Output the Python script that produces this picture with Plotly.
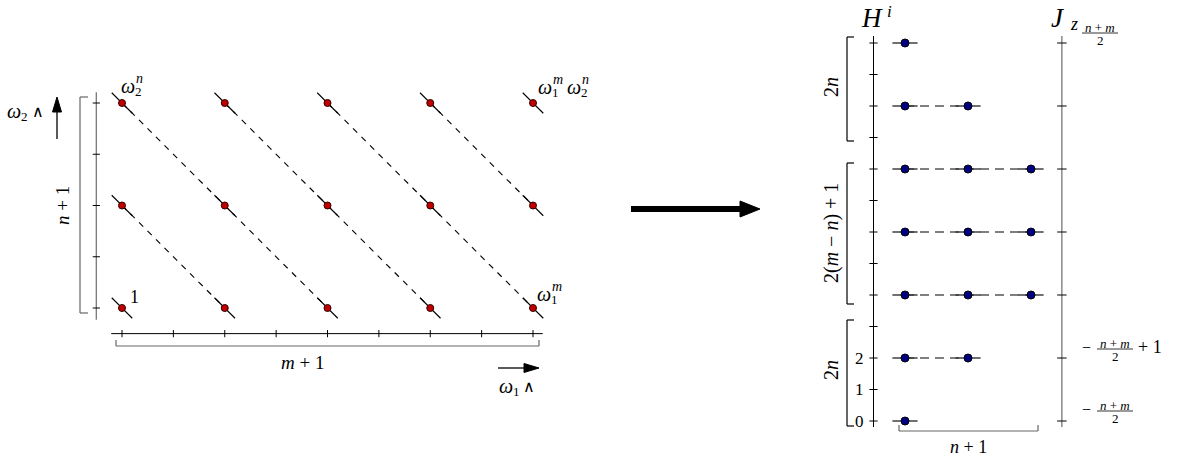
import plotly.graph_objects as go

# ---------------- data ----------------
# Left panel: weight lattice (positions in tick units)
lattice_cols = [0, 2, 4, 6, 8]      # omega_1 exponents 0 ... m (with ellipsis ticks between)
lattice_rows = [0, 2, 4]            # omega_2 exponents 0 ... n
col_ticks = [0, 1, 2, 3, 4, 5, 6, 7, 8]
row_ticks = [0, 1, 2, 3, 4]

# Right panel: H^i levels and number of states per level
h_levels = [0, 2, 4, 6, 8, 10, 12]
h_mult = [1, 2, 3, 3, 3, 2, 1]
h_ticks = list(range(13))
h_tick_labels = ["0", "1", "2"]
jz_ticks = [0, 2, 4, 6, 8, 10, 12]

# ---------------- geometry ----------------
W, H = 1177, 461
X0L, SXL, Y0L, SYL = 122, 51.375, 308, 51.25
X0R, SXR, Y0R, SYR = 905, 63, 421, 31.5
SERIF = "Liberation Serif"

fig = go.Figure()
annotations = []
shapes = []


def seg_trace(xs, ys, axes, color="black", width=1, dash="solid"):
    xa, ya = axes
    fig.add_trace(go.Scatter(x=xs, y=ys, mode="lines", xaxis=xa, yaxis=ya,
                             line=dict(color=color, width=width, dash=dash),
                             hoverinfo="skip", showlegend=False))


def txt(x, y, s, size=15, angle=0, xa="center", ya="middle", family=SERIF):
    annotations.append(dict(x=x, y=y, xref="x", yref="y", text=s, showarrow=False,
                            font=dict(family=family, size=size, color="black"),
                            textangle=angle, xanchor=xa, yanchor=ya, borderpad=0))


def pline(x0, y0, x1, y1, color="black", width=1):
    shapes.append(dict(type="line", xref="x", yref="y", x0=x0, y0=y0, x1=x1, y1=y1,
                       line=dict(color=color, width=width)))


def omega(x, y, sub, sup=None, size=20):
    txt(x, y, "<i>ω</i>", size)
    txt(x + 6, y + 5, sub, 13, xa="left")
    if sup:
        txt(x + 7, y - 8, "<i>%s</i>" % sup, 14, xa="left")


def frac(xc, ybar, w, size=13):
    txt(xc, ybar - 6, "<i>n</i> + <i>m</i>", size)
    pline(xc - w / 2, ybar, xc + w / 2, ybar, width=0.8)
    txt(xc, ybar + 7, "2", size)


L = ("x2", "y2")
R = ("x3", "y3")

# ---------------- left panel ----------------
ax_col = -0.5
ax_row = -0.5
seg_trace([ax_col, ax_col], [4.21, -0.23], L, color="#777777", width=1.3)
seg_trace([-0.21, 8.19], [ax_row, ax_row], L, color="black", width=1)
tx, ty = [], []
for c in col_ticks:
    tx += [c, c, None]
    ty += [ax_row - 0.07, ax_row + 0.07, None]
for r in row_ticks:
    tx += [ax_col - 0.07, ax_col + 0.07, None]
    ty += [r, r, None]
seg_trace(tx, ty, L, width=1)

# diagonals (constant col+row)
sums = sorted(set(c + r for c in lattice_cols for r in lattice_rows))
dx, dy, sx, sy = [], [], [], []
for s in sums:
    pts = sorted((c, r) for c in lattice_cols for r in lattice_rows if c + r == s)
    if len(pts) > 1:
        dx += [pts[0][0], pts[-1][0], None]
        dy += [pts[0][1], pts[-1][1], None]
    for c, r in pts:
        sx += [c - 0.2, c + 0.2, None]
        sy += [r + 0.2, r - 0.2, None]
seg_trace(dx, dy, L, color="black", width=1.1, dash="6px,6px")
seg_trace(sx, sy, L, color="black", width=1.1)

px, py = [], []
for c in lattice_cols:
    for r in lattice_rows:
        px.append(c)
        py.append(r)
fig.add_trace(go.Scatter(x=px, y=py, mode="markers", xaxis="x2", yaxis="y2",
                         marker=dict(size=7, color="#c00000", line=dict(color="#300000", width=1)),
                         hoverinfo="skip", showlegend=False))

# brackets & labels (left)
pline(80, 97, 80, 313, color="#666666", width=1.2)
pline(80, 97, 88, 97, color="#666666", width=1.2)
pline(80, 313, 88, 313, color="#666666", width=1.2)
txt(62, 206, "<i>n</i> + 1", 19, angle=-90)
pline(116, 346, 539, 346, color="#666666", width=1.2)
pline(116, 346, 116, 340, color="#666666", width=1.2)
pline(539, 346, 539, 340, color="#666666", width=1.2)
txt(302, 362, "<i>m</i> + 1", 19)

# direction arrows
pline(57, 139, 57, 110, width=1.3)
shapes.append(dict(type="path", xref="x", yref="y", path="M 52.5 112 L 61.5 112 L 57 97 Z",
                   fillcolor="black", line=dict(color="black", width=1)))
omega(14, 111, "2")
txt(38, 111, "∧", 16, family="DejaVu Sans")
pline(498, 368, 526, 368, width=1.3)
shapes.append(dict(type="path", xref="x", yref="y", path="M 524 363.5 L 524 372.5 L 539 368 Z",
                   fillcolor="black", line=dict(color="black", width=1)))
omega(506, 386, "1")
txt(529, 386, "∧", 16, family="DejaVu Sans")

omega(128, 86, "2", "n")
txt(134, 297, "1", 18)
omega(544, 294, "1", "m")
omega(545, 87, "1", "m")
omega(574, 87, "2", "n")

# big arrow
pline(631, 209, 745, 209, width=6)
shapes.append(dict(type="path", xref="x", yref="y", path="M 740 201 L 740 217 L 760 209 Z",
                   fillcolor="black", line=dict(color="black", width=1)))

# ---------------- right panel ----------------
h_col = -0.5
seg_trace([h_col, h_col], [12.22, -0.19], R, color="black", width=1)
tx, ty = [], []
for t in h_ticks:
    tx += [h_col - 0.065, h_col + 0.065, None]
    ty += [t, t, None]
seg_trace(tx, ty, R, width=1)
jz_col = 2.49
seg_trace([jz_col, jz_col], [12.22, -0.19], R, color="#777777", width=1.3)
tx, ty = [], []
for t in jz_ticks:
    tx += [jz_col - 0.075, jz_col + 0.075, None]
    ty += [t, t, None]
seg_trace(tx, ty, R, width=1)

dx, dy, sx, sy, mx, my = [], [], [], [], [], []
for lev, k in zip(h_levels, h_mult):
    if k > 1:
        dx += [0, k - 1, None]
        dy += [lev, lev, None]
    for c in range(k):
        sx += [c - 0.2, c + 0.2, None]
        sy += [lev, lev, None]
        mx.append(c)
        my.append(lev)
seg_trace(dx, dy, R, color="#555555", width=1.4, dash="9px,6px")
seg_trace(sx, sy, R, color="#333333", width=1.4)
fig.add_trace(go.Scatter(x=mx, y=my, mode="markers", xaxis="x3", yaxis="y3",
                         marker=dict(size=8, color="#000080", line=dict(color="black", width=1)),
                         hoverinfo="skip", showlegend=False))

# tick labels 0,1,2 on H axis
for i, lab in enumerate(h_tick_labels):
    annotations.append(dict(x=h_col - 0.13, y=i, xref="x3", yref="y3", text=lab, showarrow=False,
                            font=dict(family=SERIF, size=17, color="black"), xanchor="right",
                            yanchor="middle", borderpad=0))

# brackets right
for (y0, y1) in [(37, 141), (163, 304), (320, 426)]:
    pline(847, y0, 847, y1, width=1.2)
    pline(847, y0, 854, y0, width=1.2)
    pline(847, y1, 854, y1, width=1.2)
txt(831, 87, "2<i>n</i>", 20, angle=-90)
txt(831, 233, "2(<i>m</i> − <i>n</i>) + 1", 20, angle=-90)
txt(831, 370, "2<i>n</i>", 20, angle=-90)
pline(899, 431, 1038, 431, color="#666666", width=1.2)
pline(899, 431, 899, 425, color="#666666", width=1.2)
pline(1038, 431, 1038, 425, color="#666666", width=1.2)
txt(968, 447, "<i>n</i> + 1", 18)

# titles
txt(872, 18, "<i>H</i>", 27)
txt(889, 11, "<i>i</i>", 17)
txt(1058, 18, "<i>J</i>", 27)
txt(1074, 24, "<i>z</i>", 18)

# Jz labels
frac(1100, 33, 36)
txt(1086, 347, "−", 16)
frac(1115, 349, 36)
txt(1150, 347, "+ 1", 18)
txt(1086, 409, "−", 16)
frac(1115, 411, 36)

# ---------------- layout ----------------
def rng(x0, s, total, flip=False):
    if flip:
        return [(x0 - total) / s, x0 / s]
    return [(0 - x0) / s, (total - x0) / s]

hidden = dict(visible=False, fixedrange=True, domain=[0, 1])
fig.update_layout(
    width=W, height=H, autosize=False,
    margin=dict(l=0, r=0, t=0, b=0),
    paper_bgcolor="white", plot_bgcolor="white",
    xaxis=dict(range=[0, W], **hidden),
    yaxis=dict(range=[H, 0], **hidden),
    xaxis2=dict(range=rng(X0L, SXL, W), overlaying="x", anchor="y2", **hidden),
    yaxis2=dict(range=rng(Y0L, SYL, H, flip=True), overlaying="y", anchor="x2", **hidden),
    xaxis3=dict(range=rng(X0R, SXR, W), overlaying="x", anchor="y3", **hidden),
    yaxis3=dict(range=rng(Y0R, SYR, H, flip=True), overlaying="y", anchor="x3", **hidden),
    annotations=annotations, shapes=shapes,
)
# dummy trace on pixel axes so they exist
fig.add_trace(go.Scatter(x=[0], y=[0], mode="markers", marker=dict(size=1, opacity=0),
                         hoverinfo="skip", showlegend=False))

fig.write_html("out.html", config={"displayModeBar": False, "staticPlot": True},
               post_script="document.body.style.margin='0';document.body.style.overflow='hidden';")
